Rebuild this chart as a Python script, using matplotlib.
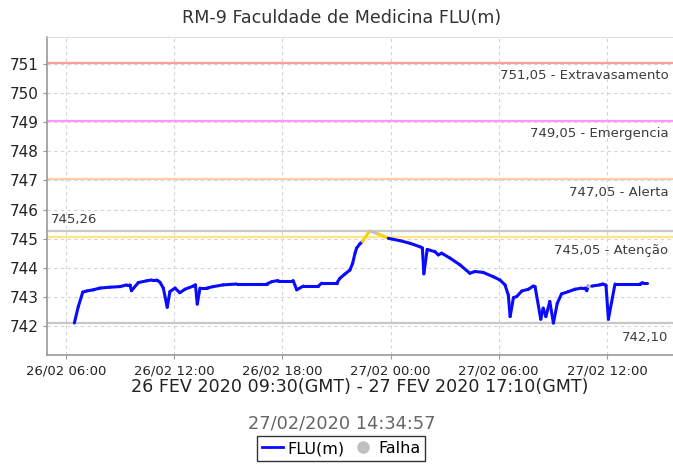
import matplotlib
matplotlib.use("Agg")
import matplotlib.pyplot as plt
import matplotlib.dates as mdates
from matplotlib.collections import LineCollection
from matplotlib.lines import Line2D
import pandas as pd
import numpy as np

# ---------------- data ----------------
times = [
    "2020-02-26 06:28", "2020-02-26 06:41", "2020-02-26 06:56", "2020-02-26 07:09",
    "2020-02-26 07:31", "2020-02-26 07:53", "2020-02-26 08:26", "2020-02-26 09:00",
    "2020-02-26 09:22", "2020-02-26 09:33", "2020-02-26 09:38", "2020-02-26 10:01",
    "2020-02-26 10:29", "2020-02-26 10:45", "2020-02-26 11:02", "2020-02-26 11:13",
    "2020-02-26 11:24", "2020-02-26 11:37", "2020-02-26 11:46", "2020-02-26 12:03",
    "2020-02-26 12:19", "2020-02-26 12:36", "2020-02-26 13:04", "2020-02-26 13:11",
    "2020-02-26 13:17", "2020-02-26 13:26", "2020-02-26 13:48", "2020-02-26 14:10",
    "2020-02-26 14:43", "2020-02-26 15:28", "2020-02-26 17:08", "2020-02-26 17:25",
    "2020-02-26 17:46", "2020-02-26 18:36", "2020-02-26 18:48", "2020-02-26 19:10",
    "2020-02-26 20:00", "2020-02-26 20:11", "2020-02-26 21:01", "2020-02-26 21:12",
    "2020-02-26 21:28", "2020-02-26 21:45", "2020-02-26 21:54", "2020-02-26 22:02",
    "2020-02-26 22:07", "2020-02-26 22:18", "2020-02-26 22:27", "2020-02-26 22:46",
    "2020-02-26 22:52", "2020-02-26 23:19", "2020-02-26 23:36", "2020-02-26 23:53",
    "2020-02-27 00:31", "2020-02-27 01:05", "2020-02-27 01:38", "2020-02-27 01:46",
    "2020-02-27 01:51", "2020-02-27 02:02", "2020-02-27 02:28", "2020-02-27 02:39",
    "2020-02-27 02:50", "2020-02-27 03:18", "2020-02-27 03:51", "2020-02-27 04:24",
    "2020-02-27 04:41", "2020-02-27 05:08", "2020-02-27 05:42", "2020-02-27 06:04",
    "2020-02-27 06:21", "2020-02-27 06:32", "2020-02-27 06:38", "2020-02-27 06:49",
    "2020-02-27 07:00", "2020-02-27 07:17", "2020-02-27 07:39", "2020-02-27 07:55",
    "2020-02-27 08:01", "2020-02-27 08:20", "2020-02-27 08:28", "2020-02-27 08:37",
    "2020-02-27 08:50", "2020-02-27 09:02", "2020-02-27 09:15", "2020-02-27 09:29",
    "2020-02-27 09:52", "2020-02-27 10:14", "2020-02-27 10:36", "2020-02-27 10:47",
    "2020-02-27 10:53", "2020-02-27 10:58", "2020-02-27 11:10", "2020-02-27 11:37",
    "2020-02-27 11:46", "2020-02-27 11:57", "2020-02-27 12:05", "2020-02-27 12:27",
    "2020-02-27 13:50", "2020-02-27 13:59", "2020-02-27 14:13",
]
flu = [
    742.10, 742.66, 743.16, 743.20,
    743.24, 743.30, 743.33, 743.35,
    743.41, 743.41, 743.21, 743.49,
    743.55, 743.58, 743.58, 743.50,
    743.30, 742.64, 743.18, 743.30,
    743.14, 743.26, 743.37, 743.41,
    742.75, 743.30, 743.30, 743.35,
    743.41, 743.44, 743.44, 743.52,
    743.56, 743.56, 743.24, 743.37,
    743.37, 743.47, 743.47, 743.64,
    743.78, 743.92, 744.15, 744.50,
    744.67, 744.82, 744.90, 745.20,
    745.26, 745.16, 745.09, 745.01,
    744.93, 744.84, 744.72, 744.68,
    743.79, 744.63, 744.55, 744.44,
    744.50, 744.33, 744.10, 743.81,
    743.87, 743.84, 743.69, 743.58,
    743.41, 743.06, 742.32, 742.97,
    743.01, 743.20, 743.26, 743.37,
    743.35, 742.23, 742.61, 742.32,
    742.84, 742.10, 742.78, 743.10,
    743.18, 743.26, 743.30, 743.30,
    743.21, 743.37, 743.37, 743.41,
    743.44, 743.40, 742.23, 743.44,
    743.44, 743.49, 743.49,
]
# failure (Falha) intervals, drawn in gray
falha_ini = ["2020-02-26 22:52", "2020-02-27 10:58"]
falha_fim = ["2020-02-26 23:19", "2020-02-27 11:10"]

# reference levels
niveis = [751.05, 749.05, 747.05, 745.05]
niveis_txt = ["751,05 - Extravasamento", "749,05 - Emergencia", "747,05 - Alerta", "745,05 - Atenção"]
niveis_cor = ["#ff9c9c", "#ff99ff", "#ffcba8", "#ffe680"]
vmax, vmin = 745.26, 742.10

title = "RM-9 Faculdade de Medicina FLU(m)"
xlabel = "26 FEV 2020 09:30(GMT) - 27 FEV 2020 17:10(GMT)"
stamp = "27/02/2020 14:34:57"

# ---------------- plot ----------------
plt.rcParams['font.family'] = ['DejaVu Sans']
fig = plt.figure(figsize=(6.73, 4.65), dpi=100)
ax = fig.add_axes([47/673, 1-355/465, 1-47/673, (355-37)/465])

t = mdates.date2num(pd.to_datetime(times))
v = np.array(flu)
fi = mdates.date2num(pd.to_datetime(falha_ini))
ff = mdates.date2num(pd.to_datetime(falha_fim))

# grid
ax.set_axisbelow(True)
ax.grid(True, color="#d4d4d4", linestyle=(0, (3, 3)), linewidth=0.8)

# level lines
for lv, lt, lc in zip(niveis, niveis_txt, niveis_cor):
    ax.axhline(lv, color=lc, lw=1.6, zorder=2)
    ax.annotate(lt, xy=(0.993, lv), xycoords=ax.get_yaxis_transform(),
                xytext=(0, -9.5), textcoords="offset points", ha="right", va="center",
                fontsize=9.5, color="#3c3c3c")
ax.axhline(vmax, color="#c8c8c8", lw=1.6, zorder=2)
ax.annotate("745,26", xy=(0.006, vmax), xycoords=ax.get_yaxis_transform(),
            xytext=(0, 8.5), textcoords="offset points", ha="left", va="center",
            fontsize=9.5, color="#3c3c3c")
ax.axhline(vmin, color="#c8c8c8", lw=1.6, zorder=2)
ax.annotate("742,10", xy=(0.993, vmin), xycoords=ax.get_yaxis_transform(),
            xytext=(0, -10.5), textcoords="offset points", ha="right", va="center",
            fontsize=9.5, color="#3c3c3c")

# data line segments
segs, cols = [], []
for i in range(len(t)-1):
    segs.append([(t[i], v[i]), (t[i+1], v[i+1])])
    gray = any(abs(t[i]-a) < 1e-6 and abs(t[i+1]-b) < 1e-6 for a, b in zip(fi, ff))
    if gray:
        cols.append("#c0c0c0")
    elif max(v[i], v[i+1]) > niveis[3]:
        cols.append("#f5d20a")
    else:
        cols.append("#0a0aff")
lc = LineCollection(segs, colors=cols, linewidths=2.2, capstyle="round", joinstyle="round", zorder=3)
ax.add_collection(lc)

ax.set_xlim(mdates.date2num(pd.Timestamp("2020-02-26 04:57")), mdates.date2num(pd.Timestamp("2020-02-27 15:40")))
ax.set_ylim(741.0, 751.93)
ax.set_yticks(range(742, 752))
ax.xaxis.set_major_locator(mdates.HourLocator(byhour=[0, 6, 12, 18]))
ax.xaxis.set_major_formatter(mdates.DateFormatter("%d/%m %H:%M"))
ax.tick_params(axis="x", labelsize=9.5, length=3, color="#999999", labelcolor="#222222", pad=4)
ax.tick_params(axis="y", labelsize=11, length=3, color="#999999", labelcolor="#222222", pad=3)

ax.spines["right"].set_visible(False)
ax.spines["top"].set_color("#dddddd")
ax.spines["left"].set_color("#999999")
ax.spines["bottom"].set_color("#999999")
ax.spines["left"].set_linewidth(1.2)
ax.spines["bottom"].set_linewidth(1.2)

fig.text(0.508, 1-18/465, title, ha="center", va="center", fontsize=12.6, color="#333333")
fig.text(0.535, 1-387/465, xlabel, ha="center", va="center", fontsize=12.6, color="#222222")
fig.text(0.508, 1-423/465, stamp, ha="center", va="center", fontsize=12.8, color="#666666")

handles = [Line2D([], [], color="#0a0aff", lw=2),
           Line2D([], [], color="#c0c0c0", lw=0, marker="o", markersize=8)]
leg = fig.legend(handles, ["FLU(m)", "Falha"], loc="center", bbox_to_anchor=(0.507, 1-448.5/465),
                 ncol=2, fontsize=11.5, frameon=True, fancybox=False, edgecolor="black",
                 handlelength=1.3, handletextpad=0.3, columnspacing=0.5, borderpad=0.3,
                 borderaxespad=0)
leg.get_frame().set_linewidth(1.0)

fig.savefig("out.png", dpi=100)
